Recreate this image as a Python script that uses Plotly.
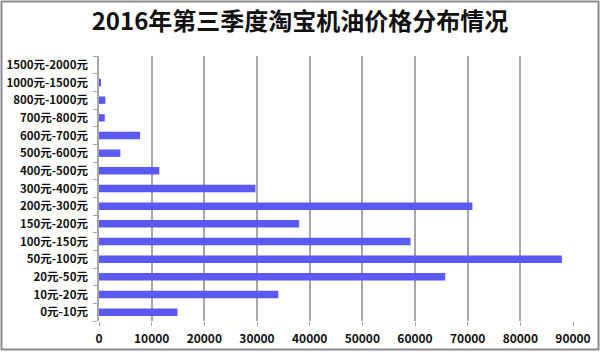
import plotly.graph_objects as go

categories = ["0元-10元", "10元-20元", "20元-50元", "50元-100元", "100元-150元",
              "150元-200元", "200元-300元", "300元-400元", "400元-500元", "500元-600元",
              "600元-700元", "700元-800元", "800元-1000元", "1000元-1500元", "1500元-2000元"]
values = [14900, 34050, 65750, 87900, 59150, 38000, 70900, 29700, 11450, 4050,
          7800, 1100, 1200, 400, 0]
x_ticks = [0, 10000, 20000, 30000, 40000, 50000, 60000, 70000, 80000, 90000]

FONT = "Noto Sans CJK SC"

fig = go.Figure(go.Bar(
    x=values, y=categories, orientation="h",
    marker=dict(color="#5a5af2", line=dict(width=0)),
))

L, R, T, B = 99, 27, 56, 31
W, H = 600, 352
pw, ph = W - L - R, H - T - B

fig.update_layout(
    width=W, height=H,
    margin=dict(l=L, r=R, t=T, b=B, autoexpand=False),
    paper_bgcolor="white", plot_bgcolor="white",
    bargap=0.58,
    showlegend=False,
    title=dict(text="2016年第三季度淘宝机油价格分布情况", x=0.5, xanchor="center",
               y=1 - 22 / H, yanchor="middle",
               font=dict(family=FONT, size=24, color="#111111", weight="bold")),
    xaxis=dict(range=[0, 90000], tickvals=x_ticks, ticktext=[str(v) for v in x_ticks],
               automargin=False,
               showgrid=True, gridcolor="#a6a6a6", gridwidth=1.5,
               zeroline=False, showline=False,
               ticks="outside", ticklen=4, tickcolor="#a6a6a6", ticklabelstandoff=3,
               tickfont=dict(family=FONT, size=12, color="#111111", weight="bold")),
    yaxis=dict(type="category", showgrid=False, zeroline=False, automargin=False,
               showline=True, linecolor="#a6a6a6", linewidth=1.5,
               ticks="outside", ticklen=4, tickcolor="#a6a6a6", tickson="boundaries",
               ticklabelstandoff=7,
               tickfont=dict(family=FONT, size=11.5, color="#111111", weight="bold")),
    shapes=[dict(type="rect", xref="paper", yref="paper",
                 x0=(1.5 - L) / pw, x1=(598.5 - L) / pw,
                 y0=(H - B - 349.5) / ph, y1=(H - B - 1.5) / ph,
                 line=dict(color="#8c8c8c", width=2))],
)

fig.write_html("out.html")
